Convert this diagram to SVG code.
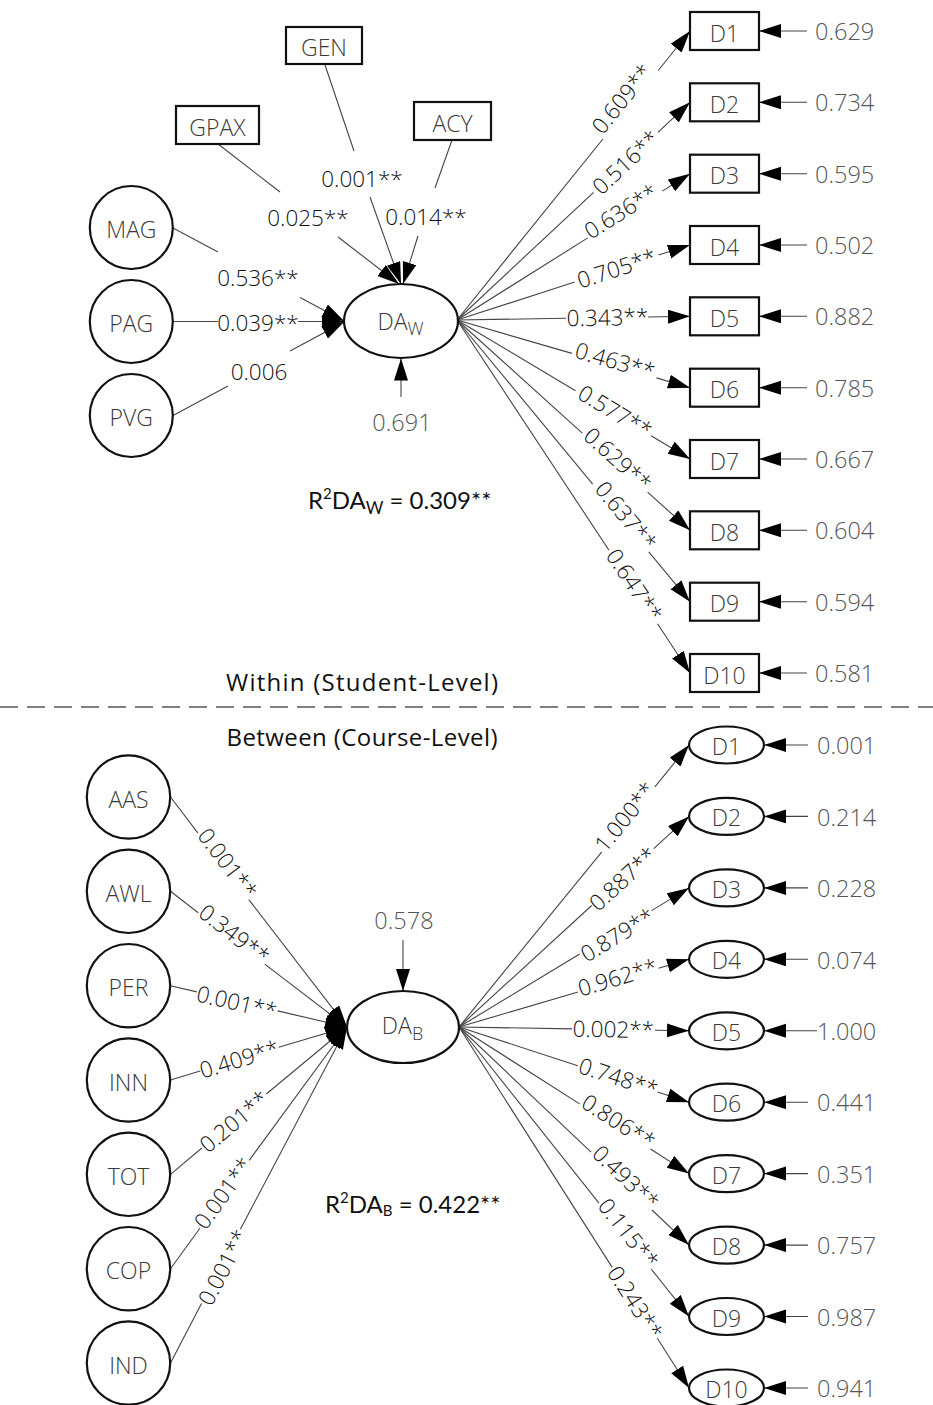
<svg xmlns="http://www.w3.org/2000/svg" width="933" height="1405" viewBox="0 0 933 1405">
  <style>
    .shape { fill: #fff; stroke: #111; stroke-width: 2.2; }
    .nl { font-family: "Open Sans", "Noto Sans", sans-serif; font-weight: 300; font-size: 23px; fill: #3a3a3a; text-anchor: middle; }
    .sub { font-size: 18px; }
    .ln { fill: none; stroke: #444; stroke-width: 1.1; }
    .arr { marker-end: url(#ah); }
    .cf { font-family: "Open Sans", "Noto Sans", sans-serif; font-weight: 300; font-size: 22.5px; fill: #111; text-anchor: middle; }
    .ev { font-family: "Open Sans", "Noto Sans", sans-serif; font-weight: 300; font-size: 23.5px; fill: #555; }
    .hd { font-family: "Open Sans", "Noto Sans", sans-serif; font-size: 24px; fill: #111; text-anchor: middle; }
    .r2 { font-family: "Lato", "Liberation Sans", sans-serif; font-size: 24px; fill: #111; }
  </style>
  <defs>
    <marker id="ah" markerUnits="userSpaceOnUse" markerWidth="24" markerHeight="16" refX="22" refY="7" orient="auto">
      <path d="M0,0 L22,7 L0,14 Z" fill="#000"/>
    </marker>
  </defs>
  <rect width="933" height="1405" fill="#fff"/>

  <!-- ===== connectors ===== -->
  <g id="connectors">
    <!-- within level: predictors to DA_W -->
    <polyline class="ln" points="173,228 218,252"/>
    <line class="ln arr" x1="300" y1="297.5" x2="344" y2="321"/>
    <text class="cf" x="258" y="286">0.536**</text>

    <line class="ln" x1="173" y1="321.5" x2="218" y2="321.5"/>
    <line class="ln arr" x1="298" y1="321.5" x2="344" y2="321.5"/>
    <text class="cf" x="258" y="331">0.039**</text>

    <line class="ln" x1="173" y1="415.5" x2="228" y2="386"/>
    <line class="ln arr" x1="290" y1="351" x2="344" y2="322"/>
    <text class="cf" x="259" y="380">0.006</text>

    <line class="ln" x1="218" y1="144" x2="280" y2="192"/>
    <line class="ln arr" x1="338" y1="237" x2="399" y2="284"/>
    <text class="cf" x="308" y="226">0.025**</text>

    <line class="ln" x1="325" y1="65" x2="354" y2="151"/>
    <line class="ln arr" x1="370" y1="197" x2="401" y2="284"/>
    <text class="cf" x="362" y="187">0.001**</text>

    <line class="ln" x1="452" y1="140" x2="435" y2="188"/>
    <line class="ln arr" x1="418" y1="236" x2="403" y2="284"/>
    <text class="cf" x="426" y="225">0.014**</text>

    <line class="ln arr" x1="401" y1="397" x2="401" y2="358.5"/>
    <text class="ev" x="402" y="431" text-anchor="middle">0.691</text>

    <!-- within level: DA_W to indicators -->
    <line class="ln" x1="457" y1="320" x2="602.9" y2="139"/>
    <line class="ln arr" x1="658.2" y1="70.5" x2="690" y2="31"/>
    <text class="cf" transform="translate(622,99) rotate(-51.1)" y="8">0.609**</text>

    <line class="ln" x1="457" y1="320" x2="593.6" y2="192.3"/>
    <line class="ln arr" x1="657.9" y1="132.3" x2="690" y2="102.3"/>
    <text class="cf" transform="translate(625.8,162.3) rotate(-43.05)" y="8">0.516**</text>

    <line class="ln" x1="457" y1="320" x2="587.8" y2="237.9"/>
    <line class="ln arr" x1="662.3" y1="191.1" x2="690" y2="173.7"/>
    <text class="cf" transform="translate(621,211.5) rotate(-32.13)" y="8">0.636**</text>

    <line class="ln" x1="457" y1="320" x2="574.7" y2="282.1"/>
    <line class="ln arr" x1="658.5" y1="255.1" x2="690" y2="245"/>
    <text class="cf" transform="translate(616.6,268.6) rotate(-17.84)" y="8">0.705**</text>

    <line class="ln" x1="457" y1="320" x2="566" y2="318.3"/>
    <line class="ln arr" x1="648" y1="317" x2="690" y2="316.3"/>
    <text class="cf" transform="translate(607.5,317.6) rotate(-0.91)" y="8">0.343**</text>

    <line class="ln" x1="457" y1="320" x2="571.9" y2="353.4"/>
    <line class="ln arr" x1="656.4" y1="377.9" x2="690" y2="387.7"/>
    <text class="cf" transform="translate(615,361) rotate(16.2)" y="8">0.463**</text>

    <line class="ln" x1="457" y1="320" x2="575.5" y2="390.7"/>
    <line class="ln arr" x1="651.1" y1="435.8" x2="690" y2="459"/>
    <text class="cf" transform="translate(615,411.7) rotate(30.82)" y="8">0.577**</text>

    <line class="ln" x1="457" y1="320" x2="582.3" y2="433.1"/>
    <line class="ln arr" x1="647.6" y1="492.1" x2="690" y2="530.3"/>
    <text class="cf" transform="translate(617.5,459.2) rotate(42.07)" y="8">0.629**</text>

    <line class="ln" x1="457" y1="320" x2="592.7" y2="484.1"/>
    <line class="ln arr" x1="648.8" y1="551.9" x2="690" y2="601.7"/>
    <text class="cf" transform="translate(625.8,515.8) rotate(50.41)" y="8">0.637**</text>

    <line class="ln" x1="457" y1="320" x2="609" y2="550.3"/>
    <line class="ln arr" x1="657.5" y1="623.8" x2="690" y2="673"/>
    <text class="cf" transform="translate(634.2,585) rotate(56.57)" y="8">0.647**</text>

    <!-- within level: residuals of indicators -->
    <line class="ln arr" x1="807" y1="31" x2="759" y2="31"/>
    <line class="ln arr" x1="807" y1="102.3" x2="759" y2="102.3"/>
    <line class="ln arr" x1="807" y1="173.7" x2="759" y2="173.7"/>
    <line class="ln arr" x1="807" y1="245" x2="759" y2="245"/>
    <line class="ln arr" x1="807" y1="316.3" x2="759" y2="316.3"/>
    <line class="ln arr" x1="807" y1="387.7" x2="759" y2="387.7"/>
    <line class="ln arr" x1="807" y1="459" x2="759" y2="459"/>
    <line class="ln arr" x1="807" y1="530.3" x2="759" y2="530.3"/>
    <line class="ln arr" x1="807" y1="601.7" x2="759" y2="601.7"/>
    <line class="ln arr" x1="807" y1="673" x2="759" y2="673"/>
    <text class="ev" x="815" y="40">0.629</text>
    <text class="ev" x="815" y="111">0.734</text>
    <text class="ev" x="815" y="182.5">0.595</text>
    <text class="ev" x="815" y="254">0.502</text>
    <text class="ev" x="815" y="325">0.882</text>
    <text class="ev" x="815" y="396.5">0.785</text>
    <text class="ev" x="815" y="468">0.667</text>
    <text class="ev" x="815" y="539">0.604</text>
    <text class="ev" x="815" y="610.5">0.594</text>
    <text class="ev" x="815" y="682">0.581</text>

    <!-- between level: predictors to DA_B -->
    <line class="ln" x1="170.5" y1="797" x2="197.8" y2="832.8"/>
    <line class="ln arr" x1="248.8" y1="899.6" x2="347" y2="1027"/>
    <text class="cf" transform="translate(227.5,863.3) rotate(52.66)" y="8">0.001**</text>

    <line class="ln" x1="170.5" y1="891.3" x2="198.2" y2="912.7"/>
    <line class="ln arr" x1="264.7" y1="964.1" x2="347" y2="1027"/>
    <text class="cf" transform="translate(234.2,934.2) rotate(37.71)" y="8">0.349**</text>

    <line class="ln" x1="170.5" y1="985.7" x2="196.8" y2="991.9"/>
    <line class="ln arr" x1="277.6" y1="1010.9" x2="347" y2="1027"/>
    <text class="cf" transform="translate(236.7,1002.5) rotate(13.24)" y="8">0.001**</text>

    <line class="ln" x1="170.5" y1="1080" x2="200.2" y2="1071"/>
    <line class="ln arr" x1="278.7" y1="1047.3" x2="347" y2="1027"/>
    <text class="cf" transform="translate(239.2,1059.2) rotate(-16.8)" y="8">0.409**</text>

    <line class="ln" x1="170.5" y1="1174.3" x2="201.9" y2="1148"/>
    <line class="ln arr" x1="266.3" y1="1094" x2="347" y2="1027"/>
    <text class="cf" transform="translate(234.2,1121.7) rotate(-40)" y="8">0.201**</text>

    <line class="ln" x1="170.5" y1="1268.7" x2="199.9" y2="1228.2"/>
    <line class="ln arr" x1="249.2" y1="1160.3" x2="347" y2="1027"/>
    <text class="cf" transform="translate(223.3,1193.3) rotate(-54)" y="8">0.001**</text>

    <line class="ln" x1="170.5" y1="1363" x2="201.5" y2="1303.6"/>
    <line class="ln arr" x1="240.4" y1="1229.2" x2="347" y2="1027"/>
    <text class="cf" transform="translate(223.3,1267.5) rotate(-62.42)" y="8">0.001**</text>

    <line class="ln arr" x1="403" y1="940" x2="403" y2="991"/>
    <text class="ev" x="404" y="929" text-anchor="middle">0.578</text>

    <!-- between level: DA_B to indicators -->
    <line class="ln" x1="459" y1="1027" x2="601.8" y2="851.9"/>
    <line class="ln arr" x1="654.9" y1="786.8" x2="689" y2="745"/>
    <text class="cf" transform="translate(625,817) rotate(-50.8)" y="8">1.000**</text>

    <line class="ln" x1="459" y1="1027" x2="591.7" y2="905.5"/>
    <line class="ln arr" x1="653.7" y1="848.7" x2="689" y2="816.4"/>
    <text class="cf" transform="translate(623,879) rotate(-42.48)" y="8">0.887**</text>

    <line class="ln" x1="459" y1="1027" x2="579.7" y2="954"/>
    <line class="ln arr" x1="651.5" y1="910.6" x2="689" y2="887.9"/>
    <text class="cf" transform="translate(617.5,935) rotate(-31.17)" y="8">0.879**</text>

    <line class="ln" x1="459" y1="1027" x2="577.9" y2="992"/>
    <line class="ln arr" x1="658.5" y1="968.3" x2="689" y2="959.3"/>
    <text class="cf" transform="translate(617.5,977.5) rotate(-16.4)" y="8">0.962**</text>

    <line class="ln" x1="459" y1="1027" x2="572" y2="1028.9"/>
    <line class="ln arr" x1="655" y1="1030.2" x2="689" y2="1030.8"/>
    <text class="cf" transform="translate(613.3,1029.5) rotate(0.95)" y="8">0.002**</text>

    <line class="ln" x1="459" y1="1027" x2="577.8" y2="1065.8"/>
    <line class="ln arr" x1="657.6" y1="1091.9" x2="689" y2="1102.2"/>
    <text class="cf" transform="translate(618.3,1077.5) rotate(18.1)" y="8">0.748**</text>

    <line class="ln" x1="459" y1="1027" x2="579.6" y2="1103.9"/>
    <line class="ln arr" x1="650.5" y1="1149" x2="689" y2="1173.6"/>
    <text class="cf" transform="translate(618.3,1121.7) rotate(32.52)" y="8">0.806**</text>

    <line class="ln" x1="459" y1="1027" x2="591.1" y2="1152.2"/>
    <line class="ln arr" x1="652" y1="1210" x2="689" y2="1245.1"/>
    <text class="cf" transform="translate(625.8,1177.5) rotate(43.48)" y="8">0.493**</text>

    <line class="ln" x1="459" y1="1027" x2="599" y2="1203.2"/>
    <line class="ln arr" x1="651.2" y1="1269" x2="689" y2="1316.5"/>
    <text class="cf" transform="translate(628.3,1233.3) rotate(51.54)" y="8">0.115**</text>

    <line class="ln" x1="459" y1="1027" x2="612.2" y2="1267.4"/>
    <line class="ln arr" x1="657.3" y1="1338.2" x2="689" y2="1388"/>
    <text class="cf" transform="translate(635,1302.5) rotate(57.5)" y="8">0.243**</text>

    <!-- between level: residuals of indicators -->
    <line class="ln arr" x1="808" y1="745" x2="764" y2="745"/>
    <line class="ln arr" x1="808" y1="816.4" x2="764" y2="816.4"/>
    <line class="ln arr" x1="808" y1="887.9" x2="764" y2="887.9"/>
    <line class="ln arr" x1="808" y1="959.3" x2="764" y2="959.3"/>
    <line class="ln arr" x1="817" y1="1030.8" x2="764" y2="1030.8"/>
    <line class="ln arr" x1="808" y1="1102.2" x2="764" y2="1102.2"/>
    <line class="ln arr" x1="808" y1="1173.6" x2="764" y2="1173.6"/>
    <line class="ln arr" x1="808" y1="1245.1" x2="764" y2="1245.1"/>
    <line class="ln arr" x1="808" y1="1316.5" x2="764" y2="1316.5"/>
    <line class="ln arr" x1="808" y1="1388" x2="764" y2="1388"/>
    <text class="ev" x="817" y="754">0.001</text>
    <text class="ev" x="817" y="825.5">0.214</text>
    <text class="ev" x="817" y="897">0.228</text>
    <text class="ev" x="817" y="968.5">0.074</text>
    <text class="ev" x="817" y="1040">1.000</text>
    <text class="ev" x="817" y="1111">0.441</text>
    <text class="ev" x="817" y="1182.5">0.351</text>
    <text class="ev" x="817" y="1254">0.757</text>
    <text class="ev" x="817" y="1325.5">0.987</text>
    <text class="ev" x="817" y="1397">0.941</text>
  </g>

  <!-- ===== within-level nodes ===== -->
  <g id="node-GEN"><rect class="shape" x="286" y="27" width="76" height="37"/><text class="nl" x="324" y="56">GEN</text></g>
  <g id="node-GPAX"><rect class="shape" x="176" y="106" width="83" height="38"/><text class="nl" x="217.5" y="136">GPAX</text></g>
  <g id="node-ACY"><rect class="shape" x="414" y="102" width="77" height="38"/><text class="nl" x="452.5" y="132">ACY</text></g>
  <g id="node-MAG"><circle class="shape" cx="131.3" cy="227.5" r="41.5"/><text class="nl" x="131.3" y="238">MAG</text></g>
  <g id="node-PAG"><circle class="shape" cx="131.3" cy="321.5" r="41.5"/><text class="nl" x="131.3" y="332">PAG</text></g>
  <g id="node-PVG"><circle class="shape" cx="131.3" cy="415.5" r="41.5"/><text class="nl" x="131.3" y="426">PVG</text></g>
  <g id="node-DAW"><ellipse class="shape" cx="401" cy="321" rx="57" ry="37"/><text class="nl" x="400.5" y="330">DA<tspan class="sub" dy="5">W</tspan></text></g>

  <g id="node-W-D1"><rect class="shape" x="690" y="12" width="69" height="38"/><text class="nl" x="724.5" y="41.5">D1</text></g>
  <g id="node-W-D2"><rect class="shape" x="690" y="83.3" width="69" height="38"/><text class="nl" x="724.5" y="112.8">D2</text></g>
  <g id="node-W-D3"><rect class="shape" x="690" y="154.7" width="69" height="38"/><text class="nl" x="724.5" y="184.2">D3</text></g>
  <g id="node-W-D4"><rect class="shape" x="690" y="226" width="69" height="38"/><text class="nl" x="724.5" y="255.5">D4</text></g>
  <g id="node-W-D5"><rect class="shape" x="690" y="297.3" width="69" height="38"/><text class="nl" x="724.5" y="326.8">D5</text></g>
  <g id="node-W-D6"><rect class="shape" x="690" y="368.7" width="69" height="38"/><text class="nl" x="724.5" y="398.2">D6</text></g>
  <g id="node-W-D7"><rect class="shape" x="690" y="440" width="69" height="38"/><text class="nl" x="724.5" y="469.5">D7</text></g>
  <g id="node-W-D8"><rect class="shape" x="690" y="511.3" width="69" height="38"/><text class="nl" x="724.5" y="540.8">D8</text></g>
  <g id="node-W-D9"><rect class="shape" x="690" y="582.7" width="69" height="38"/><text class="nl" x="724.5" y="612.2">D9</text></g>
  <g id="node-W-D10"><rect class="shape" x="690" y="654" width="69" height="38"/><text class="nl" x="724.5" y="683.5">D10</text></g>

  <text class="r2" x="308" y="509">R<tspan font-size="15" dy="-10">2</tspan><tspan dy="10">DA</tspan><tspan font-size="17" dy="5">W</tspan><tspan dy="-5"> = 0.309**</tspan></text>

  <!-- ===== level separator ===== -->
  <text class="hd" x="362" y="691" textLength="272">Within (Student-Level)</text>
  <line x1="0" y1="707" x2="933" y2="707" stroke="#555" stroke-width="1.5" stroke-dasharray="18 9"/>
  <text class="hd" x="362" y="746" textLength="271">Between (Course-Level)</text>

  <!-- ===== between-level nodes ===== -->
  <g id="node-AAS"><circle class="shape" cx="128.5" cy="797" r="41.7"/><text class="nl" x="128.5" y="807.5">AAS</text></g>
  <g id="node-AWL"><circle class="shape" cx="128.5" cy="891.3" r="41.7"/><text class="nl" x="128.5" y="901.8">AWL</text></g>
  <g id="node-PER"><circle class="shape" cx="128.5" cy="985.7" r="41.7"/><text class="nl" x="128.5" y="996.2">PER</text></g>
  <g id="node-INN"><circle class="shape" cx="128.5" cy="1080" r="41.7"/><text class="nl" x="128.5" y="1090.5">INN</text></g>
  <g id="node-TOT"><circle class="shape" cx="128.5" cy="1174.3" r="41.7"/><text class="nl" x="128.5" y="1184.8">TOT</text></g>
  <g id="node-COP"><circle class="shape" cx="128.5" cy="1268.7" r="41.7"/><text class="nl" x="128.5" y="1279.2">COP</text></g>
  <g id="node-IND"><circle class="shape" cx="128.5" cy="1363" r="41.7"/><text class="nl" x="128.5" y="1373.5">IND</text></g>
  <g id="node-DAB"><ellipse class="shape" cx="403" cy="1027" rx="56" ry="36"/><text class="nl" x="402.5" y="1034">DA<tspan class="sub" dy="6">B</tspan></text></g>

  <g id="node-B-D1"><ellipse class="shape" cx="726.5" cy="745" rx="37.5" ry="18.5"/><text class="nl" x="726.5" y="755">D1</text></g>
  <g id="node-B-D2"><ellipse class="shape" cx="726.5" cy="816.4" rx="37.5" ry="18.5"/><text class="nl" x="726.5" y="826.4">D2</text></g>
  <g id="node-B-D3"><ellipse class="shape" cx="726.5" cy="887.9" rx="37.5" ry="18.5"/><text class="nl" x="726.5" y="897.9">D3</text></g>
  <g id="node-B-D4"><ellipse class="shape" cx="726.5" cy="959.3" rx="37.5" ry="18.5"/><text class="nl" x="726.5" y="969.3">D4</text></g>
  <g id="node-B-D5"><ellipse class="shape" cx="726.5" cy="1030.8" rx="37.5" ry="18.5"/><text class="nl" x="726.5" y="1040.8">D5</text></g>
  <g id="node-B-D6"><ellipse class="shape" cx="726.5" cy="1102.2" rx="37.5" ry="18.5"/><text class="nl" x="726.5" y="1112.2">D6</text></g>
  <g id="node-B-D7"><ellipse class="shape" cx="726.5" cy="1173.6" rx="37.5" ry="18.5"/><text class="nl" x="726.5" y="1183.6">D7</text></g>
  <g id="node-B-D8"><ellipse class="shape" cx="726.5" cy="1245.1" rx="37.5" ry="18.5"/><text class="nl" x="726.5" y="1255.1">D8</text></g>
  <g id="node-B-D9"><ellipse class="shape" cx="726.5" cy="1316.5" rx="37.5" ry="18.5"/><text class="nl" x="726.5" y="1326.5">D9</text></g>
  <g id="node-B-D10"><ellipse class="shape" cx="726.5" cy="1388" rx="37.5" ry="18.5"/><text class="nl" x="726.5" y="1398">D10</text></g>

  <text class="r2" x="325" y="1213">R<tspan font-size="15" dy="-10">2</tspan><tspan dy="10">DA</tspan><tspan font-size="15" dy="3">B</tspan><tspan dy="-3"> = 0.422**</tspan></text>
</svg>
